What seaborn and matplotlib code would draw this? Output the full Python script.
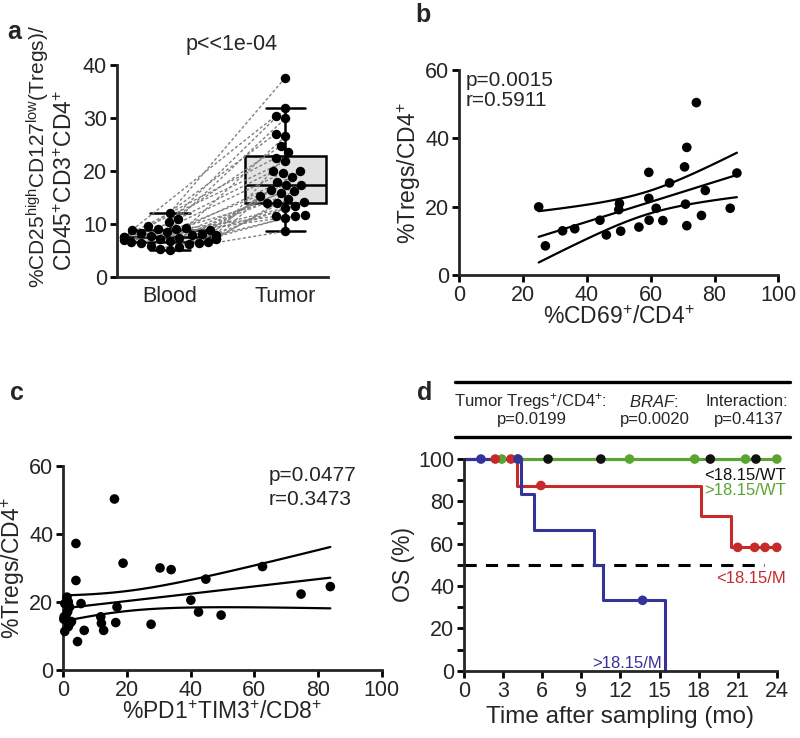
import numpy as np
import pandas as pd
import matplotlib
matplotlib.use("Agg")
import matplotlib.pyplot as plt
from matplotlib.ticker import MultipleLocator
import seaborn as sns

# ---- panel a: paired Treg frequencies (blood vs tumor), same patient order
blood_vals = [12.1, 11.0, 10.3, 9.6, 9.3, 9.1, 9.0, 8.8, 8.8, 8.5,
              8.2, 8.0, 7.9, 7.8, 7.7, 7.6, 7.5, 7.4, 7.3, 7.2,
              7.1, 7.0, 6.8, 6.6, 6.5, 6.4, 6.3, 6.1, 5.9, 5.6, 5.3, 5.0]
tumor_vals = [37.6, 29.9, 31.8, 21.8, 26.5, 17.4, 24.7, 30.4, 19.9, 14.0,
              27.0, 16.3, 23.5, 13.3, 19.6, 11.4, 22.5, 15.9, 17.8, 13.9,
              18.9, 11.7, 16.1, 14.7, 19.9, 13.0, 15.3, 11.1, 17.4, 14.2, 11.5, 8.6]
sites = ["Blood", "Tumor"]

# ---- panel b: CD69 vs Tregs
cd69 = [24.9, 27.0, 32.4, 36.2, 44.1, 46.1, 50.2, 50.0, 50.6, 56.3, 59.4, 59.4, 59.5,
        61.7, 63.8, 65.9, 70.6, 71.3, 70.9, 71.3, 74.3, 75.9, 77.1, 84.9, 87.0]
tregs_b = [20.0, 8.6, 13.0, 13.6, 16.1, 11.8, 21.0, 19.2, 12.9, 14.1, 30.1, 22.5, 16.1,
           19.6, 16.0, 27.0, 31.7, 37.4, 20.8, 14.5, 50.5, 17.5, 24.8, 19.6, 29.9]

# ---- panel c: PD1+TIM3+ CD8 vs Tregs
pd1tim3 = [16.1, 4.0, 4.0, 18.8, 30.4, 33.9, 44.8, 40.1, 42.5, 49.6, 62.6, 74.7, 83.9,
           5.6, 16.9, 16.5, 27.6, 11.8, 12.0, 12.7, 6.6, 4.5,
           0.5, 1.2, 1.6, 2.0, 1.4, 0.9, 0.3, 0.2, 2.1, 1.6, 0.5, 2.6]
tregs_c = [50.4, 37.3, 26.4, 31.5, 30.1, 29.6, 26.8, 20.6, 17.1, 16.2, 30.5, 22.4, 24.6,
           19.6, 18.6, 14.0, 13.5, 15.7, 13.8, 11.7, 11.7, 8.4,
           19.6, 21.5, 20.1, 18.6, 17.2, 16.2, 15.7, 15.0, 13.8, 12.8, 11.4, 14.3]

# ---- panel d: Kaplan-Meier steps and censor times
km_groups = ["<18.15/WT", ">18.15/WT", "<18.15/M", ">18.15/M"]
km_colors = ["#111111", "#5aa532", "#c62a2a", "#33339a"]
km_times = [[0, 22.4], [0, 24.0], [0, 4.1, 18.2, 20.5, 24.0],
            [0, 4.4, 5.4, 10.0, 10.7, 15.4]]
km_surv = [[100, 100], [100, 100], [100, 87.5, 72.9, 58.3, 58.3],
           [100, 83.3, 66.7, 50.0, 33.3, 0]]
km_censor = [[6.45, 10.5, 18.9, 22.4], [2.9, 4.1, 12.7, 17.7, 21.6, 24.0],
             [2.4, 3.6, 5.9, 21.0, 22.3, 23.1, 24.0], [1.3, 4.15, 13.7]]

sns.set_style("ticks")
plt.rcParams["font.family"] = ["Liberation Sans", "DejaVu Sans"]
plt.rcParams["mathtext.fontset"] = "custom"
plt.rcParams["mathtext.rm"] = "Liberation Sans"
plt.rcParams["mathtext.it"] = "Liberation Sans:italic"
plt.rcParams["mathtext.bf"] = "Liberation Sans:bold"
plt.rcParams["mathtext.default"] = "regular"

FS = 15.5      # tick labels / annotations
FL = 16.5      # axis titles
LW = 2.0

fig = plt.figure(figsize=(8, 7.38), dpi=100)


def style_axes(ax):
    sns.despine(ax=ax)
    for s in ["left", "bottom"]:
        ax.spines[s].set_linewidth(LW)
    ax.tick_params(width=LW, length=5, labelsize=FS, which="both", color="black", pad=2)


def fit_band(x, y, t_crit):
    x = np.asarray(x, float)
    y = np.asarray(y, float)
    slope, inter = np.polyfit(x, y, 1)
    xs = np.linspace(x.min(), x.max(), 100)
    yhat = inter + slope * xs
    resid = y - (inter + slope * x)
    s = np.sqrt(np.sum(resid ** 2) / (len(x) - 2))
    se = s * np.sqrt(1 / len(x) + (xs - x.mean()) ** 2 / np.sum((x - x.mean()) ** 2))
    return xs, yhat, yhat - t_crit * se, yhat + t_crit * se


# -----------------------
# Panel a
# -----------------------
ax_a = fig.add_axes([0.146, 0.625, 0.264, 0.287])
df_a = pd.DataFrame({"site": [sites[0]] * len(blood_vals) + [sites[1]] * len(tumor_vals),
                     "value": blood_vals + tumor_vals})
sns.boxplot(data=df_a, x="site", y="value", order=sites, width=0.7, color="#e2e2e2",
            linecolor="black", linewidth=1.8, showfliers=False, whis=1.5, ax=ax_a)
# narrower whisker caps (the median line spans the full box width)
for ln in ax_a.lines:
    xd, yd = np.asarray(ln.get_xdata(), float), np.asarray(ln.get_ydata(), float)
    if len(xd) == 2 and yd[0] == yd[1] and abs(xd[1] - xd[0]) < 0.6:
        c = xd.mean()
        ln.set_xdata([c - 0.17, c + 0.17])
sns.swarmplot(data=df_a, x="site", y="value", order=sites, color="black", size=6.8,
              ax=ax_a, zorder=4)
ax_a.set_xlim(-0.46, 1.37)
ax_a.set_ylim(0, 40)
ax_a.set_yticks([0, 10, 20, 30, 40])
fig.canvas.draw()
pts_b = ax_a.collections[-2].get_offsets()
pts_t = ax_a.collections[-1].get_offsets()
for pb, pt in zip(pts_b, pts_t):
    ax_a.plot([pb[0], pt[0]], [pb[1], pt[1]], color="#808080", lw=1.0,
              ls=(0, (2.2, 1.6)), zorder=3)
style_axes(ax_a)
ax_a.tick_params(axis="x", length=0, pad=7)
ax_a.set_xlabel("")
ax_a.set_ylabel("")
fig.text(38 / 800, 1 - 156 / 738, r"%CD25$^{high}$CD127$^{low}$(Tregs)/", rotation=90,
         ha="center", va="center", fontsize=15)
fig.text(66 / 800, 1 - 180 / 738, r"CD45$^{+}$CD3$^{+}$CD4$^{+}$", rotation=90,
         ha="center", va="center", fontsize=16.5)
fig.text(0.289, 0.940, "p<<1e-04", ha="center", va="center", fontsize=FS)

# -----------------------
# Panel b
# -----------------------
ax_b = fig.add_axes([0.574, 0.627, 0.399, 0.278])
sns.scatterplot(x=cd69, y=tregs_b, color="black", s=48, edgecolor="none", ax=ax_b,
                clip_on=False, zorder=3)
xs, yh, lo, hi = fit_band(cd69, tregs_b, 2.069)
for line in (yh, lo, hi):
    ax_b.plot(xs, line, color="black", lw=1.6)
ax_b.set_xlim(0, 100)
ax_b.set_ylim(0, 60)
ax_b.set_xticks(range(0, 101, 20))
ax_b.set_yticks(range(0, 61, 20))
style_axes(ax_b)
ax_b.set_xlabel(r"%CD69$^{+}$/CD4$^{+}$", fontsize=FL, labelpad=0)
ax_b.set_ylabel(r"%Tregs/CD4$^{+}$", fontsize=FL, labelpad=2)
ax_b.text(1.9, 57.0, "p=0.0015", fontsize=FS - 0.5, va="center", ha="left")
ax_b.text(1.9, 51.0, "r=0.5911", fontsize=FS - 0.5, va="center", ha="left")

# -----------------------
# Panel c
# -----------------------
ax_c = fig.add_axes([0.079, 0.092, 0.398, 0.276])
sns.scatterplot(x=pd1tim3, y=tregs_c, color="black", s=48, edgecolor="none", ax=ax_c,
                clip_on=False, zorder=3)
xs, yh, lo, hi = fit_band(pd1tim3, tregs_c, 2.037)
for line in (yh, lo, hi):
    ax_c.plot(xs, line, color="black", lw=1.6)
ax_c.set_xlim(0, 100)
ax_c.set_ylim(0, 60)
ax_c.set_xticks(range(0, 101, 20))
ax_c.set_yticks(range(0, 61, 20))
style_axes(ax_c)
ax_c.set_xlabel(r"%PD1$^{+}$TIM3$^{+}$/CD8$^{+}$", fontsize=FL, labelpad=0)
ax_c.set_ylabel(r"%Tregs/CD4$^{+}$", fontsize=FL, labelpad=2)
ax_c.text(64.5, 57.2, "p=0.0477", fontsize=FS - 0.5, va="center", ha="left")
ax_c.text(64.5, 50.2, "r=0.3473", fontsize=FS - 0.5, va="center", ha="left")

# -----------------------
# Panel d
# -----------------------
ax_d = fig.add_axes([0.58, 0.091, 0.391, 0.287])
for times, surv, cens, col in zip(km_times, km_surv, km_censor, km_colors):
    ax_d.step(times, surv, where="post", color=col, lw=2.2, clip_on=False, zorder=2)
for times, surv, cens, col in zip(km_times, km_surv, km_censor, km_colors):
    idx = np.searchsorted(times, cens, side="right") - 1
    cy = np.asarray(surv)[np.clip(idx, 0, len(surv) - 1)]
    sns.scatterplot(x=cens, y=cy, color=col, s=48, edgecolor="none", ax=ax_d,
                    clip_on=False, zorder=4)
ax_d.plot([0, 23], [50, 50], color="black", lw=2.2, ls=(0, (4, 3)), zorder=1)
ax_d.set_xlim(0, 24)
ax_d.set_ylim(0, 100)
ax_d.set_xticks(range(0, 25, 3))
ax_d.set_yticks(range(0, 101, 20))
ax_d.yaxis.set_minor_locator(MultipleLocator(10))
style_axes(ax_d)
ax_d.set_xlabel("Time after sampling (mo)", fontsize=FL + 1, labelpad=3)
ax_d.set_ylabel("OS (%)", fontsize=FL, labelpad=2)
lab_pos = [(24.7, 92.0), (24.7, 85.0), (24.7, 43.8), (15.2, 3.6)]
for name, col, (lx, ly) in zip(km_groups, km_colors, lab_pos):
    ax_d.text(lx, ly, name, color=col, fontsize=12, ha="right", va="center")

# header of panel d
for yl in (0.4824, 0.4079):
    fig.add_artist(plt.Line2D([0.569, 0.9875], [yl, yl], transform=fig.transFigure,
                              color="black", lw=2.4))
hdr = [(0.6625, r"Tumor Tregs$^{+}$/CD4$^{+}$:", "p=0.0199"),
       (0.817, r"$\mathit{BRAF}$:", "p=0.0020"),
       (0.934, "Interaction:", "p=0.4137")]
for hx, t1, t2 in hdr:
    fig.text(hx, 0.4553, t1, ha="center", va="center", fontsize=12)
    fig.text(hx + 0.002, 0.4322, t2, ha="center", va="center", fontsize=12)

# panel letters
for lx, ly, letter in [(0.0175, 0.957, "a"), (0.529, 0.98, "b"),
                       (0.021, 0.4675, "c"), (0.531, 0.4675, "d")]:
    fig.text(lx, ly, letter, fontsize=18, fontweight="bold", ha="center", va="center")

fig.savefig("out.png", dpi=100)
